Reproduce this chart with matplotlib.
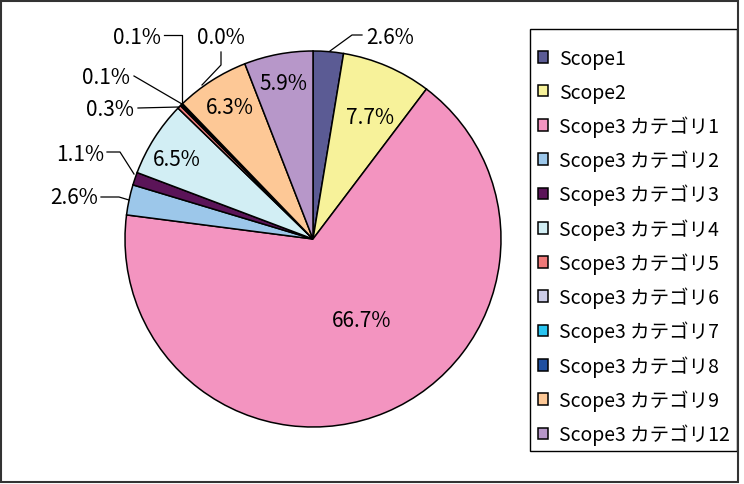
import matplotlib
matplotlib.use("Agg")
import matplotlib.pyplot as plt
from matplotlib.patches import Rectangle

plt.rcParams['font.family'] = ['Noto Sans CJK JP', 'DejaVu Sans']

categories = ["Scope1", "Scope2", "Scope3 カテゴリ1", "Scope3 カテゴリ2", "Scope3 カテゴリ3",
              "Scope3 カテゴリ4", "Scope3 カテゴリ5", "Scope3 カテゴリ6", "Scope3 カテゴリ7",
              "Scope3 カテゴリ8", "Scope3 カテゴリ9", "Scope3 カテゴリ12"]
values = [2.6, 7.7, 66.7, 2.6, 1.1, 6.5, 0.3, 0.1, 0.1, 0.04, 6.3, 5.9]
colors = ["#5B5B94", "#F7F29A", "#F394C0", "#9CC7EA", "#5B1458", "#D2EEF4",
          "#F07A7A", "#CCCCE8", "#29C4F0", "#1F4FA0", "#FDC896", "#B797C9"]

W, H = 744, 485
fig = plt.figure(figsize=(W / 100, H / 100), dpi=100)
ax = fig.add_axes([0, 0, 1, 1])

def py(y):  # pixel-from-top -> data y
    return H - y

cx, cy, r = 313, py(240), 188
wedges, _ = ax.pie(values, colors=colors, startangle=90, counterclock=False,
                   center=(cx, cy), radius=r,
                   wedgeprops=dict(edgecolor="black", linewidth=1.1))
ax.set_xlim(0, W)
ax.set_ylim(0, H)
ax.set_aspect("equal")
ax.axis("off")

fs = 15
labels = [f"{v:.1f}%" for v in values]

# label anchor positions (pixels from top-left) and alignment
label_layout = {
    0: (366, 38, "left"),
    1: (370, 118, "center"),
    2: (362, 321, "center"),
    3: (98, 198, "right"),
    4: (104, 155, "right"),
    5: (177, 160, "center"),
    6: (134, 110, "right"),
    7: (130, 78, "right"),
    8: (161, 38, "right"),
    9: (221, 38, "center"),
    10: (230, 108, "center"),
    11: (283, 84, "center"),
}
leaders = {
    0: [(330, 52), (352, 36), (362, 36)],
    3: [(129, 201), (119, 198), (101, 198)],
    4: [(134, 175), (120, 153), (107, 153)],
    6: [(179, 108), (138, 109)],
    7: [(182, 105), (134, 77)],
    8: [(182, 103), (182, 36), (164, 36)],
    9: [(202, 86), (221, 66), (221, 53)],
}
for i, (x, y, ha) in label_layout.items():
    ax.text(x, py(y), labels[i], ha=ha, va="center", fontsize=fs, color="black")
for i, pts in leaders.items():
    ax.plot([p[0] for p in pts], [py(p[1]) for p in pts], color="black", lw=0.9)

leg = ax.legend(wedges, categories, loc="upper left",
                bbox_to_anchor=(530 / W, 1 - 41 / H), bbox_transform=fig.transFigure,
                fontsize=14, frameon=False, borderpad=0.4, labelspacing=0.655,
                handlelength=0.55, handleheight=0.55, handletextpad=0.55,
                borderaxespad=0)

# legend frame
fig.patches.append(Rectangle((530 / W, 1 - 452 / H), 207 / W, 422 / H,
                             transform=fig.transFigure, fill=False,
                             edgecolor="black", linewidth=1.0))
# outer chart border
fig.patches.append(Rectangle((1 / W, 2 / H), 737 / W, 481 / H, transform=fig.transFigure,
                             fill=False, edgecolor="#333333", linewidth=1.5))

fig.savefig("out.png", dpi=100)
